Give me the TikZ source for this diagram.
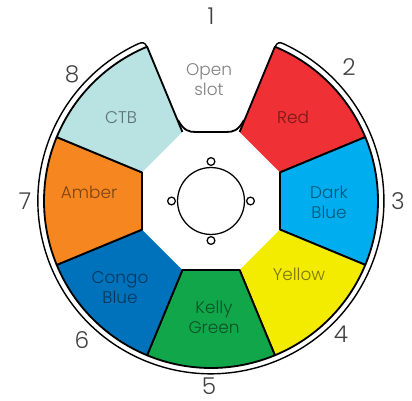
\documentclass[tikz,border=0pt]{standalone}
\usepackage{fontspec}
\setmainfont{Poppins}[UprightFont=* Light]
\usetikzlibrary{calc}
\definecolor{wheelred}{HTML}{EF3034}
\definecolor{wheelblue}{HTML}{00ADEE}
\definecolor{wheelyellow}{HTML}{F3EB00}
\definecolor{wheelgreen}{HTML}{12A64B}
\definecolor{wheelcongo}{HTML}{0072BC}
\definecolor{wheelamber}{HTML}{F6861F}
\definecolor{wheelctb}{HTML}{B9E2E3}
\tikzset{
    % Slot label style
    slotlabel/.style={
        align=center,
        text=black,
        text opacity=0.5,
        inner sep=0pt,
        font=\fontsize{12}{14.2}\selectfont
    },
    % Slot number style
    slotnum/.style={
        text=black!75,
        inner sep=0pt,
        font=\fontsize{16.5}{20}\selectfont
    },
    % Wedge style
    wedge/.style={
        draw=black,
        line width=1.3pt,
        line join=round
    },
    % Thin outline style
    ring/.style={
        draw=black,
        line width=1pt,
        fill=none
    },
    % Hub circle style
    hubcircle/.style={
        draw=black,
        circle,
        line width=0.9pt,
        fill=white,
        inner sep=0pt
    }
}

\begin{document}
\begin{tikzpicture}[x=0.025cm,y=0.025cm]
    \useasboundingbox (-211,-199) rectangle (201,201);

    % ========== COLOUR WEDGES ==========
    \foreach \ang/\col in {45/wheelred,0/wheelblue,-45/wheelyellow,-90/wheelgreen,-135/wheelcongo,180/wheelamber,135/wheelctb}{
        \fill[\col] (\ang-22.5:74.7) -- (\ang-22.5:167) arc[start angle=\ang-22.5,end angle=\ang+22.5,radius=167] -- (\ang+22.5:74.7) -- cycle;
        \draw[wedge] (\ang-22.5:74.7) -- (\ang-22.5:167) arc[start angle=\ang-22.5,end angle=\ang+22.5,radius=167] -- (\ang+22.5:74.7);
    }

    % ========== CENTRE OCTAGON ==========
    \draw[wedge] (-67.5:74.7) -- (-112.5:74.7);
    \draw[wedge] (-22.5:74.7) -- (22.5:74.7);
    \draw[wedge] (157.5:74.7) -- (-157.5:74.7);

    % ========== OPEN SLOT ==========
    \draw[wedge] (-33,81) .. controls (-27,70) and (-22,69) .. (-15,69) -- (15,69) .. controls (22,69) and (27,70) .. (33,81);

    % ========== OUTER RING ==========
    \draw[ring] (64,154) .. controls (66,159) and (69,159) .. (73,157) arc[start angle=65,end angle=-245,radius=173] .. controls (-69,159) and (-66,159) .. (-64,154);

    % ========== HUB ==========
    \node[hubcircle,minimum size=47.6pt] (hub) at (0,0) {};
    \foreach \ang/\nm in {90/n,0/e,-90/s,180/w}{
        \node[hubcircle,minimum size=5.5pt] (bolt\nm) at (\ang:39.5) {};
    }

    % ========== LABELS ==========
    \node[slotlabel] (open) at (-2,121) {Open\\slot};
    \node[slotlabel] (red) at (82,84) {Red};
    \node[slotlabel] (dblue) at (118,-1) {Dark\\Blue};
    \node[slotlabel] (yellow) at (88,-73) {Yellow};
    \node[slotlabel] (kelly) at (3,-116) {Kelly\\Green};
    \node[slotlabel] (congo) at (-91,-87) {Congo\\Blue};
    \node[slotlabel] (amber) at (-122,9) {Amber};
    \node[slotlabel] (ctb) at (-90,83) {CTB};

    % ========== SLOT NUMBERS ==========
    \node[slotnum] (num1) at (0,185) {1};
    \node[slotnum] (num2) at (138,134) {2};
    \node[slotnum] (num3) at (187,0) {3};
    \node[slotnum] (num4) at (130,-133) {4};
    \node[slotnum] (num5) at (-2,-185.5) {5};
    \node[slotnum] (num6) at (-129,-139) {6};
    \node[slotnum] (num7) at (-186,0) {7};
    \node[slotnum] (num8) at (-139,127) {8};

\end{tikzpicture}
\end{document}
